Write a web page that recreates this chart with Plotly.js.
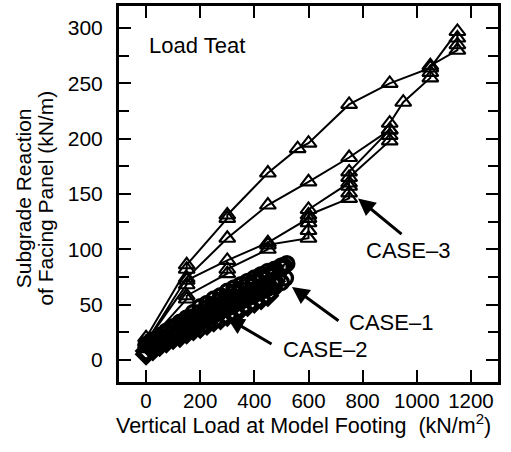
<!DOCTYPE html>
<html>
<head>
<meta charset="utf-8">
<script src="https://cdn.plot.ly/plotly-3.0.1.min.js"></script>
<style>
  html, body { margin: 0; padding: 0; background: #fff; }
  #chart { width: 511px; height: 452px; }
</style>
</head>
<body>
<div id="chart"></div>
<script>
// CASE-1: load / unload / reload passes (circles)
const case1Load = [0, 25, 50, 75, 100, 125, 150, 175, 200, 225, 250, 275, 300, 325, 350, 375, 400, 425, 450, 475, 500, 520,
                   515, 500, 475, 450, 425, 400, 375, 350, 325, 300, 275, 250, 225, 200, 175, 150, 125, 100, 75, 50, 25, 0,
                   25, 50, 75, 100, 125, 150, 175, 200, 225, 250, 275, 300, 325, 350, 375, 400, 425, 450, 475, 500, 510];
const case1Reaction = [14, 18, 22, 26, 30, 34, 38, 43, 48, 51, 55, 58, 62, 65, 68, 71, 74, 77, 80, 82, 85, 87,
                       74, 70, 68, 65, 62, 59, 56, 53, 50, 47, 44, 41, 38, 35, 32, 29, 26, 22, 18, 14, 10, 7,
                       16, 20, 24, 28, 32, 35, 39, 43, 47, 50, 54, 57, 61, 64, 68, 71, 74, 77, 80, 83, 85];

// CASE-2: load / unload / reload passes (diamonds)
const case2Load = [0, 25, 50, 75, 100, 125, 150, 175, 200, 225, 250, 275, 300, 325, 350, 375, 400, 425, 450, 475,
                   460, 450, 425, 400, 375, 350, 325, 300, 275, 250, 225, 200, 175, 150, 125, 100, 75, 50, 25, 0,
                   25, 50, 75, 100, 125, 150, 175, 200, 225, 250, 275, 300, 325, 350, 375, 400, 425, 450];
const case2Reaction = [8, 12, 15, 19, 22, 25, 29, 32, 36, 39, 42, 46, 49, 52, 56, 59, 62, 65, 68, 71,
                       62, 58, 55, 52, 49, 46, 43, 40, 37, 35, 32, 29, 27, 24, 21, 19, 16, 13, 9, 5,
                       10, 13, 17, 20, 23, 27, 30, 34, 37, 40, 44, 47, 50, 54, 57, 60, 63, 66];

// CASE-3: staged loading with two unload / reload cycles (triangles)
const case3Load = [0, 0, 150, 150, 300, 300, 450, 450, 600, 600, 600, 600, 750, 750, 750, 750, 900, 900, 900,
                   750, 600, 450, 300, 150, 0,
                   150, 150, 300, 450, 600, 600, 750, 750, 900, 900, 950, 1050, 1050, 1050, 1150, 1150, 1150, 1150,
                   1050, 900, 750, 600, 560, 450, 300, 300, 150, 150, 0];
const case3Reaction = [10, 14, 55, 58, 78, 82, 100, 104, 110, 117, 124, 131, 146, 151, 157, 165, 198, 203, 208,
                       183, 161, 140, 110, 74, 16,
                       68, 72, 90, 106, 128, 136, 160, 170, 208, 214, 233, 255, 260, 266, 280, 285, 291, 297,
                       264, 250, 231, 196, 191, 169, 131, 128, 86, 82, 20];

const xTicks = [0, 200, 400, 600, 800, 1000, 1200];
const yTicks = [0, 50, 100, 150, 200, 250, 300];

const FONT = 'Liberation Sans, Arial, sans-serif';

function series(x, y, symbol, size, lw) {
  return {
    x: x, y: y, type: 'scatter', mode: 'lines+markers',
    line: { color: '#000', width: 2 },
    marker: { symbol: symbol, size: size, color: '#000', line: { color: '#000', width: lw } },
    showlegend: false, hoverinfo: 'skip', cliponaxis: true
  };
}

const traces = [
  series(case2Load, case2Reaction, 'diamond-open', 14, 3.4),
  series(case1Load, case1Reaction, 'circle-open', 14, 3.4),
  series(case3Load, case3Reaction, 'triangle-up-open', 14, 2.1)
];

const axisCommon = {
  showline: true, linecolor: '#000', linewidth: 3, mirror: 'ticks',
  ticks: 'inside', ticklen: 12, tickwidth: 2, tickcolor: '#000',
  showgrid: false, zeroline: false
};

const arrowStyle = { showarrow: true, arrowhead: 2, arrowsize: 1.15, arrowwidth: 3, arrowcolor: '#000',
                     axref: 'pixel', ayref: 'pixel', text: '' };
const labelFont = { family: FONT, size: 22, color: '#000' };
const titleFont = { family: FONT, size: 21, color: '#000' };

const layout = {
  width: 511, height: 452,
  margin: { l: 119, r: 13, t: 6, b: 70 },
  paper_bgcolor: '#fff', plot_bgcolor: '#fff',
  xaxis: Object.assign({}, axisCommon, {
    range: [-100, 1300], tickmode: 'array', tickvals: xTicks, ticktext: xTicks.map(String),
    tickfont: { family: FONT, size: 20.5, color: '#000' },
    ticklabelstandoff: -2
  }),
  yaxis: Object.assign({}, axisCommon, {
    range: [-20, 320], tickmode: 'array', tickvals: yTicks, ticktext: yTicks.map(String),
    tickfont: { family: FONT, size: 21, color: '#000' },
    ticklabelstandoff: 9,
    minor: { dtick: 25, tick0: 0, ticks: 'inside', ticklen: 10, tickwidth: 2, tickcolor: '#000' }
  }),
  annotations: [
    { xref: 'paper', yref: 'paper', x: 0.075, y: 0.895, xanchor: 'left', yanchor: 'middle',
      text: 'Load Teat', showarrow: false, font: labelFont },
    { xref: 'paper', yref: 'paper', x: 0.487, y: -0.112, xanchor: 'center', yanchor: 'middle',
      text: 'Vertical Load at Model Footing  (kN/m<sup>2</sup>)', showarrow: false,
      font: { family: FONT, size: 21.5, color: '#000' } },
    { xref: 'paper', yref: 'paper', x: -0.252, y: 0.49, xanchor: 'center', yanchor: 'middle', textangle: -90,
      text: 'Subgrade Reaction', showarrow: false, font: titleFont },
    { xref: 'paper', yref: 'paper', x: -0.193, y: 0.49, xanchor: 'center', yanchor: 'middle', textangle: -90,
      text: 'of Facing Panel (kN/m)', showarrow: false, font: titleFont },
    Object.assign({ x: 783, y: 146, ax: 45, ay: 37 }, arrowStyle),
    Object.assign({ x: 539, y: 66, ax: 48, ay: 35 }, arrowStyle),
    Object.assign({ x: 299, y: 38, ax: 46, ay: 27 }, arrowStyle),
    { x: 968, y: 99, text: 'CASE\u20133', showarrow: false, font: labelFont },
    { x: 905, y: 34, text: 'CASE\u20131', showarrow: false, font: labelFont },
    { x: 661, y: 9, text: 'CASE\u20132', showarrow: false, font: labelFont }
  ]
};

Plotly.newPlot('chart', traces, layout, { staticPlot: true, displayModeBar: false });
</script>
</body>
</html>
